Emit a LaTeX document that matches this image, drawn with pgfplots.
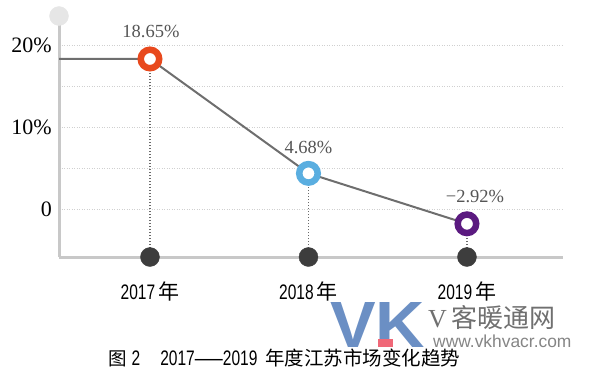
\documentclass[border=0pt]{standalone}
\usepackage{pgfplots}
\pgfplotsset{compat=1.18}
\usepackage{fontspec}
\setmainfont{Liberation Serif}
\newfontfamily\cjk{Noto Sans CJK SC}
\newfontfamily\sans{Liberation Sans}
\newfontfamily\nsans[FakeStretch=0.74]{Liberation Sans}
\definecolor{axgray}{HTML}{C8C8C8}
\definecolor{gridgray}{HTML}{D0D0D0}
\definecolor{linegray}{HTML}{6E6E6E}
\definecolor{dropgray}{HTML}{6A6A6A}
\definecolor{dotdark}{HTML}{3D3D3D}
\definecolor{capgray}{HTML}{E6E6E6}
\definecolor{labgray}{HTML}{555555}
\definecolor{cA}{HTML}{E8491D}
\definecolor{cB}{HTML}{5AAEE0}
\definecolor{cC}{HTML}{5B1A80}
\definecolor{vkblue}{HTML}{6B8FC4}
\definecolor{vkred}{HTML}{F06878}
\definecolor{wmgray}{HTML}{707070}
\newcommand{\xl}[1]{{\fontsize{21}{22}\selectfont\nsans #1}\hspace{3pt}{\fontsize{21}{22}\selectfont\cjk 年}}
\begin{document}
\begin{tikzpicture}
\path[use as bounding box] (0,0) rectangle (600pt,376pt);
% watermark
\node[anchor=south west, inner sep=0pt, text=vkblue] at (330pt,28pt) {\resizebox{95pt}{45pt}{\sans\bfseries VK}};
\fill[vkred] (378pt,29pt) rectangle (393pt,37pt);
\node[anchor=west, inner sep=0pt, text=wmgray] at (428pt,58pt) {\fontsize{26}{28}\selectfont V\,{\cjk 客暖通网}};
\node[anchor=west, inner sep=0pt, text=wmgray!85] at (433pt,35pt) {\fontsize{17.4}{19}\selectfont\sans www.vkhvacr.com};
\begin{axis}[
  at={(59pt,119pt)}, anchor=south west,
  scale only axis, width=504pt, height=241pt,
  xmin=-0.574, xmax=2.606, ymin=-5.85, ymax=23.54,
  axis x line*=bottom, axis y line*=left,
  axis line style={draw=axgray, line width=3pt, -},
  x axis line style={-}, y axis line style={-},
  major tick length=0pt, minor tick length=0pt,
  xtick={0,1,2},
  xticklabels={\xl{2017},\xl{2018},\xl{2019}},
  xticklabel style={anchor=center, inner sep=0pt, yshift=-34pt},
  ytick={0,10,20}, minor ytick={5,15},
  yticklabels={{0\hspace{9pt}},{10\%},{20\%}},
  yticklabel style={anchor=east, inner sep=0pt, xshift=-7pt, font=\fontsize{22}{24}\selectfont},
  ymajorgrids, yminorgrids,
  major grid style={gridgray, line width=0.8pt, dash pattern=on 1pt off 1.5pt},
  minor grid style={gridgray, line width=0.8pt, dash pattern=on 1pt off 1.5pt},
  clip=false,
]
% cap on top of y axis
\addplot[capgray, only marks, mark=*, mark size=9.5pt, mark options={draw=capgray, fill=capgray, solid}] coordinates {(-0.574,23.54)};
% drop lines
\addplot[dropgray, line width=1.3pt, dash pattern=on 1.3pt off 1.7pt] coordinates {(0,-5.85) (0,18.3)};
\addplot[dropgray, line width=1.3pt, dash pattern=on 1.3pt off 1.7pt] coordinates {(1,-5.85) (1,4.35)};
\addplot[dropgray, line width=1.3pt, dash pattern=on 1.3pt off 1.7pt] coordinates {(2,-5.85) (2,-1.8)};
% bottom dots
\addplot[dotdark, only marks, mark=*, mark size=9.5pt, mark options={draw=dotdark, fill=dotdark, solid}] coordinates {(0,-5.85) (1,-5.85) (2,-5.85)};
% trend line
\addplot[linegray, line width=2pt, mark=none] coordinates {(-0.574,18.3) (0,18.3) (1,4.35) (2,-1.8)};
% rings
\addplot[cA, only marks, mark=*, mark size=9.25pt, mark options={draw=cA, fill=white, line width=6.5pt, solid}] coordinates {(0,18.3)};
\addplot[cB, only marks, mark=*, mark size=9.25pt, mark options={draw=cB, fill=white, line width=6.5pt, solid}] coordinates {(1,4.35)};
\addplot[cC, only marks, mark=*, mark size=9.25pt, mark options={draw=cC, fill=white, line width=6.5pt, solid}] coordinates {(2,-1.8)};
% value labels
\node[text=labgray, font=\fontsize{18.5}{20}\selectfont, inner sep=0pt] at ([xshift=1pt, yshift=27pt]axis cs:0,18.3) {18.65\%};
\node[text=labgray, font=\fontsize{18.5}{20}\selectfont, inner sep=0pt] at ([yshift=26pt]axis cs:1,4.35) {4.68\%};
\node[text=labgray, font=\fontsize{18.5}{20}\selectfont, inner sep=0pt] at ([xshift=8pt, yshift=27pt]axis cs:2,-1.8) {−2.92\%};
\end{axis}
\node[anchor=west, inner sep=0pt] at (108pt,18pt) {\fontsize{21}{22}\selectfont{\fontsize{18.5}{20}\selectfont\cjk 图}\hspace{5pt}{\nsans 2}\hspace{20pt}{\nsans 2017\makebox[28pt]{\scalebox{1.8}[1]{—}}2019}\hspace{8pt}{\fontsize{19.5}{20}\selectfont\cjk 年度江苏市场变化趋势}};
\end{tikzpicture}
\end{document}
